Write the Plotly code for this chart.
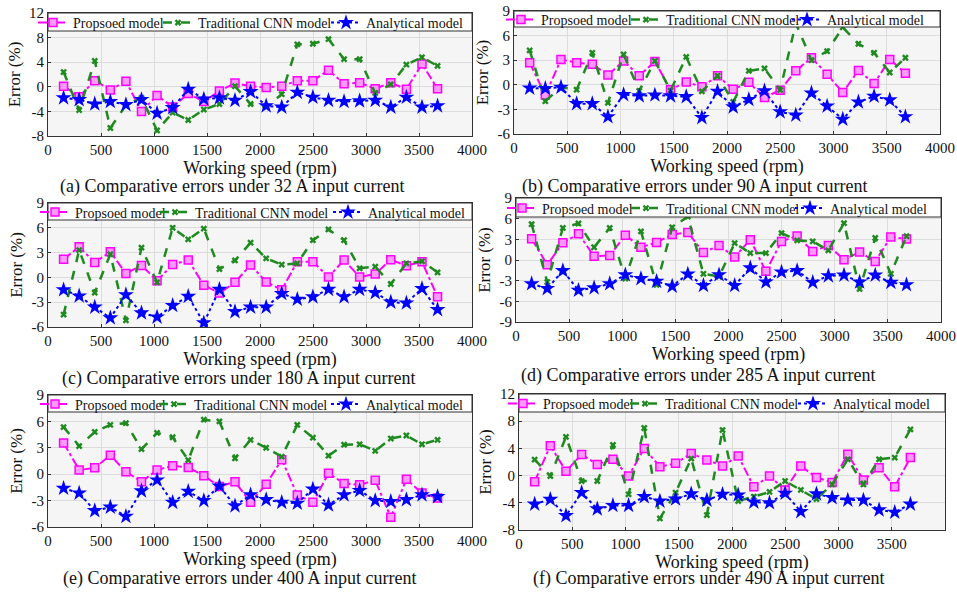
import plotly.graph_objects as go

# ---------------- data ----------------
speeds = [147, 294, 441, 588, 735, 882, 1029, 1176, 1323, 1470, 1617, 1764, 1911,
          2058, 2205, 2352, 2499, 2646, 2793, 2940, 3087, 3234, 3381, 3528, 3675]

series_names = ["Propsoed model", "Traditional CNN model", "Analytical model"]

a_prop = [0.1, -1.6, 1.0, -0.5, 0.9, -4.0, -1.4, -3.3, -1.1, -2.4, -0.7, 0.6, 0.1, -0.1, 0.1, 1.0, 1.0, 2.7, 0.5, 0.65, -0.3, 0.65, -0.4, 3.7, -0.3]
a_cnn = [2.4, -3.8, 4.2, -6.7, -3.0, -1.8, -7.1, -4.2, -5.4, -3.7, -2.8, 0.1, -2.8, -3.3, -1.2, 6.9, 7.0, 7.75, 4.5, 4.5, -1.0, 0.4, 3.6, 4.8, 3.4]
a_ana = [-1.8, -2.1, -2.8, -2.4, -2.9, -2.1, -4.3, -3.4, -0.4, -2.0, -1.8, -2.2, -0.8, -3.1, -3.3, -0.9, -1.7, -2.2, -2.4, -2.3, -2.2, -3.3, -1.7, -3.3, -3.1]

b_prop = [2.7, -1.25, 3.1, 2.7, 2.5, 1.2, 2.9, 1.1, 2.85, -0.6, 0.35, -0.25, 1.1, -0.55, 0.3, -1.55, -0.65, 1.7, 3.3, 1.3, -0.95, 1.75, 0.15, 3.1, 1.4]
b_cnn = [4.2, -2.0, -0.3, -0.6, 3.9, -2.2, 3.7, -0.75, 2.9, -0.7, 3.4, -0.8, 1.1, -2.1, 1.7, 2.0, -0.65, 7.5, 3.0, 4.1, 7.0, 5.0, 3.9, 1.5, 3.3]
b_ana = [-0.4, -0.45, -0.3, -2.3, -2.3, -3.9, -1.2, -1.35, -1.25, -1.35, -1.45, -4.0, -0.8, -2.7, -1.8, -0.75, -3.3, -3.7, -1.0, -2.6, -4.2, -2.1, -1.4, -1.85, -3.9]

c_prop = [2.2, 3.7, 1.8, 3.1, 0.47, 1.45, -0.4, 1.55, 2.1, -0.95, -1.9, -0.6, 1.5, -0.55, -1.5, 1.9, 1.9, 0.05, 2.1, 0.05, 0.4, 2.15, 1.4, 1.9, -2.35]
c_cnn = [-4.5, 3.3, -1.85, 2.8, -5.2, 3.6, -0.6, 6.0, 4.6, 5.9, 1.0, 2.05, 4.2, 2.3, 1.55, 1.7, 4.5, 5.8, 4.5, 1.1, 1.3, -0.8, 1.7, 1.95, 0.6]
c_ana = [-1.5, -2.25, -3.6, -4.9, -2.1, -4.3, -4.8, -3.4, -2.3, -5.5, -1.45, -4.15, -3.6, -3.6, -1.95, -2.65, -2.35, -1.45, -2.35, -1.45, -1.85, -3.0, -3.1, -1.35, -3.9]

d_prop = [3.1, -0.7, 2.5, 3.8, 0.55, 0.65, 3.6, 1.85, 2.55, 3.7, 4.0, 1.1, 2.1, 0.45, 2.95, -1.65, 2.7, 3.5, 1.25, 2.1, 0.05, 1.15, -0.2, 3.35, 3.05]
d_cnn = [5.2, -3.2, 4.65, 5.3, 1.85, 4.65, -2.7, 4.15, -3.6, 4.75, 6.3, -2.0, -2.4, 2.45, 1.0, 1.0, 3.9, 2.85, 2.7, 1.4, 5.35, -4.2, 3.2, -2.0, 3.45]
d_ana = [-3.45, -4.15, -1.55, -4.4, -4.05, -3.45, -2.15, -2.7, -3.1, -3.8, -2.05, -3.7, -2.15, -3.7, -1.15, -3.2, -1.75, -1.55, -3.25, -2.3, -2.2, -3.2, -2.2, -3.25, -3.6]

e_prop = [3.55, 0.47, 0.73, 2.15, 0.28, -0.85, 0.47, 0.96, 0.77, -0.17, -1.4, -0.85, -3.2, -1.15, 1.65, -2.35, -3.2, 0.1, -1.05, -1.2, -0.7, -4.9, -0.58, -2.15, -2.7]
e_cnn = [5.35, 3.2, 4.8, 5.6, 5.8, 2.85, 4.7, 4.2, 1.6, 6.2, 6.0, 1.8, 3.9, 3.0, 2.0, 5.6, 4.15, 2.1, 3.35, 3.4, 2.65, 4.05, 4.4, 3.4, 3.9]
e_ana = [-1.6, -2.15, -4.15, -3.75, -4.8, -1.9, -0.66, -3.2, -1.95, -3.0, -1.35, -3.6, -2.35, -2.9, -3.2, -3.3, -1.7, -3.5, -2.35, -1.85, -3.0, -3.1, -2.9, -2.35, -2.55]

f_prop = [-0.9, 4.4, 0.65, 3.1, 1.65, 2.4, -0.07, 4.0, 1.3, 1.8, 3.25, 2.3, 1.4, 2.9, -1.65, -0.07, -2.1, 1.4, -0.27, -1.0, 3.15, -0.66, 1.15, -1.65, 2.65]
f_cnn = [2.35, -0.07, 5.7, -0.8, -0.8, 4.5, -2.75, 7.0, -6.3, -2.5, 2.5, -5.8, 6.7, -3.75, -3.1, -2.4, -0.8, -2.1, -3.45, -1.3, 2.4, -1.3, 2.4, 2.65, 6.8]
f_ana = [-4.2, -3.5, -5.9, -2.5, -4.9, -4.4, -4.4, -3.1, -3.75, -3.45, -2.7, -3.6, -2.75, -2.85, -3.9, -4.0, -2.6, -5.3, -2.7, -3.25, -3.6, -3.6, -5.05, -5.4, -4.2]

captions = [
    "(a) Comparative errors under 32 A input current",
    "(b) Comparative errors under 90 A input current",
    "(c) Comparative errors under 180 A input current",
    "(d) Comparative errors under 285 A input current",
    "(e) Comparative errors under 400 A input current",
    "(f) Comparative errors under 490 A input current",
]
y_ranges = [(-8, 12), (-6, 9), (-6, 9), (-9, 9), (-6, 9), (-8, 12)]
y_dticks = [4, 3, 3, 3, 3, 4]
x_ticks = [0, 500, 1000, 1500, 2000, 2500, 3000, 3500, 4000]

panels = [
    (a_prop, a_cnn, a_ana), (b_prop, b_cnn, b_ana), (c_prop, c_cnn, c_ana),
    (d_prop, d_cnn, d_ana), (e_prop, e_cnn, e_ana), (f_prop, f_cnn, f_ana),
]

# ---------------- layout geometry (pixels) ----------------
W, H = 957, 592
# (left, right, top, bottom, legend_bottom)
boxes = [
    (48, 472, 13, 136, 31),
    (514, 940, 11, 134, 27),
    (48, 472, 203, 327, 220),
    (516, 941, 198, 322, 217),
    (48, 472, 395, 527, 412),
    (519, 945, 394, 530, 412),
]
# x offset of each legend symbol start from the plot's left edge
legend_offsets = [(2, 127, 295), (4, 129, 290), (4, 124, 297),
                  (3, 127, 291), (4, 123, 295), (1, 123, 291)]
caption_pos = [(232, 186), (694, 186), (238, 378), (698, 375), (239, 578), (708, 578)]

FONT = "Liberation Serif, Times New Roman, serif"
MAG = "#ff00ff"
GRN = "#1f8a1f"
BLU = "#0000ff"

def px_x(p):
    return p / W

def px_y(p):
    return 1 - p / H

styles = [
    dict(line=dict(color=MAG, width=2, dash="dashdot"),
         marker=dict(symbol="square", size=8, color="#ff99ff", line=dict(color=MAG, width=1.5))),
    dict(line=dict(color=GRN, width=2.5, dash="dash"),
         marker=dict(symbol="x", size=6, color=GRN)),
    dict(line=dict(color=BLU, width=2, dash="dot"),
         marker=dict(symbol="star", size=12, color=BLU)),
]

fig = go.Figure()
layout = dict(
    width=W, height=H, margin=dict(l=0, r=0, t=0, b=0, autoexpand=False),
    paper_bgcolor="white", plot_bgcolor="#f5f5f5",
    font=dict(family=FONT, size=15, color="#111"),
    showlegend=True,
)
shapes = []
annotations = []

for i, (vals, box, yr, dt) in enumerate(zip(panels, boxes, y_ranges, y_dticks)):
    n = i + 1
    sfx = "" if n == 1 else str(n)
    xa, ya = "x" + sfx, "y" + sfx
    l, r, t, b, lb = box

    for j, yv in enumerate(vals):
        idx = i * 3 + j
        lg = "legend" if idx == 0 else "legend%d" % (idx + 1)
        fig.add_trace(go.Scatter(
            x=speeds, y=yv, name=series_names[j], mode="lines+markers",
            xaxis=xa, yaxis=ya, legend=lg, **styles[j]))
        layout[lg] = dict(
            x=px_x(l + legend_offsets[i][j] - 17), y=px_y((t + lb) / 2 + 1),
            xanchor="left", yanchor="middle", xref="paper", yref="paper",
            orientation="h", bgcolor="rgba(0,0,0,0)", borderwidth=0,
            font=dict(family=FONT, size=14, color="#111"), itemwidth=30,
        )

    yticks = list(range(yr[0], yr[1] + 1, dt))
    layout["xaxis" + sfx] = dict(
        domain=[px_x(l), px_x(r)], anchor=ya, range=[0, 4000],
        tickvals=x_ticks, ticktext=[str(v) for v in x_ticks],
        showgrid=True, gridcolor="#dcdcdc", gridwidth=1, zeroline=False,
        showline=True, linecolor="#333", linewidth=1, mirror=True,
        ticks="inside", ticklen=3, tickcolor="#333", automargin=False,
        tickfont=dict(family=FONT, size=15),
        title=dict(text="Working speed (rpm)", font=dict(family=FONT, size=18), standoff=0),
    )
    layout["yaxis" + sfx] = dict(
        domain=[px_y(b), px_y(t)], anchor=xa, range=list(yr),
        tickvals=yticks, ticktext=[str(v) for v in yticks],
        showgrid=True, gridcolor="#dcdcdc", gridwidth=1, zeroline=False,
        showline=True, linecolor="#333", linewidth=1, mirror=True,
        ticks="inside", ticklen=3, tickcolor="#333", automargin=False,
        ticklabeloverflow="allow",
        tickfont=dict(family=FONT, size=15),
        title=dict(text="Error (%)", font=dict(family=FONT, size=17), standoff=4),
    )
    # legend frame strip at top of the plot area
    shapes.append(dict(
        type="rect", xref="paper", yref="paper",
        x0=px_x(l), x1=px_x(r), y0=px_y(lb), y1=px_y(t),
        fillcolor="white", line=dict(color="#333", width=1), layer="above"))
    cx, cy = caption_pos[i]
    annotations.append(dict(
        text=captions[i], x=px_x(cx), y=px_y(cy), xref="paper", yref="paper",
        xanchor="center", yanchor="middle", showarrow=False,
        font=dict(family=FONT, size=18, color="#111")))

layout["shapes"] = shapes
layout["annotations"] = annotations
fig.update_layout(**layout)

# remove the page's default body margin so the figure fills the window exactly
fig.write_html("out.html", config={"displayModeBar": False},
               post_script="document.body.style.margin='0';")
